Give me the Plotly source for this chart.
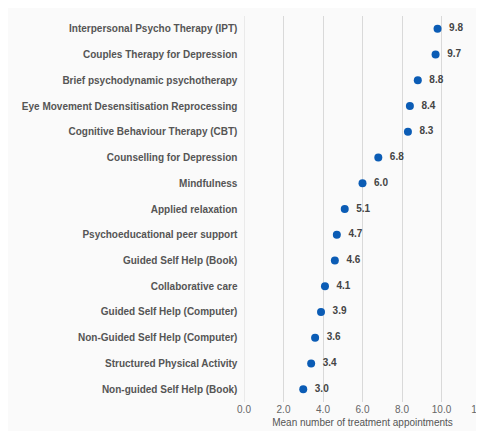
import plotly.graph_objects as go

categories = ["Interpersonal Psycho Therapy (IPT)", "Couples Therapy for Depression",
              "Brief psychodynamic psychotherapy", "Eye Movement Desensitisation Reprocessing",
              "Cognitive Behaviour Therapy (CBT)", "Counselling for Depression", "Mindfulness",
              "Applied relaxation", "Psychoeducational peer support", "Guided Self Help (Book)",
              "Collaborative care", "Guided Self Help (Computer)", "Non-Guided Self Help (Computer)",
              "Structured Physical Activity", "Non-guided Self Help (Book)"]
values = [9.8, 9.7, 8.8, 8.4, 8.3, 6.8, 6.0, 5.1, 4.7, 4.6, 4.1, 3.9, 3.6, 3.4, 3.0]
tick_vals = [0, 2, 4, 6, 8, 10, 12]

fig = go.Figure(go.Scatter(
    x=values, y=categories, mode="markers+text",
    marker=dict(color="#0b5cb5", size=8),
    text=[f"  {v:.1f}" for v in values], textposition="middle right",
    textfont=dict(family="Liberation Sans, Arial", size=10, color="#444444", weight="bold"),
    cliponaxis=False, hoverinfo="skip"))

fig.update_layout(
    width=484, height=431, margin=dict(l=236, r=11, t=8, b=37, autoexpand=False),
    paper_bgcolor="#fafafa", plot_bgcolor="#fafafa", showlegend=False,
    font=dict(family="Liberation Sans, Arial", color="#444444"),
    xaxis=dict(range=[0, 12], tickvals=tick_vals, tickformat=".1f", automargin=False,
               showgrid=True, gridcolor="#d9d9d9", gridwidth=1, zeroline=False,
               showline=False, tickfont=dict(size=10, color="#666666"),
               title=dict(text="Mean number of treatment appointments",
                          font=dict(size=10, color="#555555"), standoff=4)),
    yaxis=dict(categoryorder="array", categoryarray=categories[::-1],
               range=[-0.5, len(categories) - 0.5], automargin=False,
               showgrid=False, zeroline=False, ticksuffix="  ",
               tickfont=dict(size=10, color="#555555", weight="bold")),
)
fig.add_shape(type="line", xref="x", yref="paper", x0=0, x1=0, y0=0, y1=1,
              line=dict(color="#d9d9d9", width=1))
fig.write_html("out.html")
